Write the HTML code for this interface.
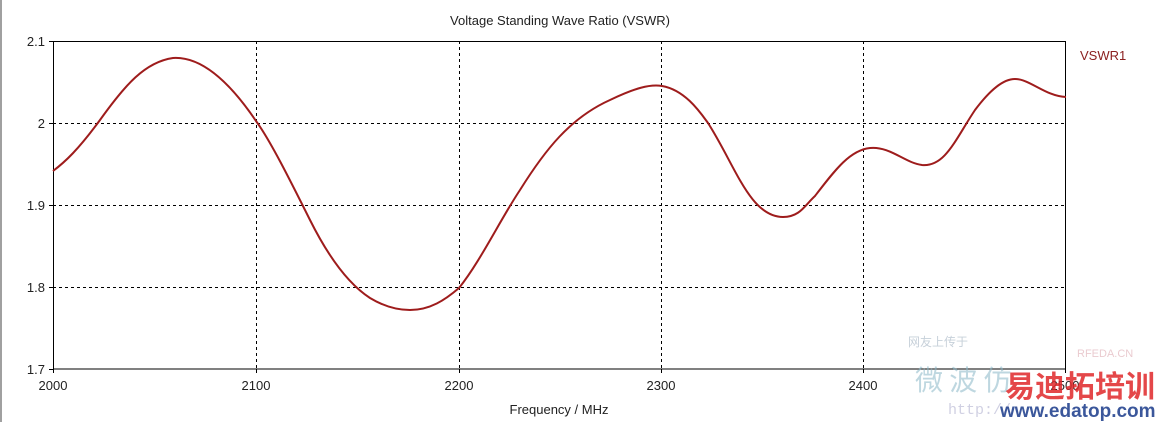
<!DOCTYPE html>
<html><head><style>
body{margin:0;background:#fff;}
svg{display:block;font-family:"Liberation Sans",Tahoma,sans-serif;}
</style></head><body>
<svg width="1161" height="422" viewBox="0 0 1161 422">
<rect x="0" y="0" width="1161" height="422" fill="#fff"/>
<line x1="1" y1="0" x2="1" y2="422" stroke="#a0a0a0" stroke-width="2"/>
<text x="560" y="25" font-size="13" text-anchor="middle" fill="#222">Voltage Standing Wave Ratio (VSWR)</text>
<g stroke="#000" stroke-width="1" stroke-dasharray="3,3">
<line x1="256.5" y1="41" x2="256.5" y2="369"/>
<line x1="459.5" y1="41" x2="459.5" y2="369"/>
<line x1="661.5" y1="41" x2="661.5" y2="369"/>
<line x1="863.5" y1="41" x2="863.5" y2="369"/>
<line x1="53" y1="123.5" x2="1066" y2="123.5"/>
<line x1="53" y1="205.5" x2="1066" y2="205.5"/>
<line x1="53" y1="287.5" x2="1066" y2="287.5"/>
</g>
<rect x="53.5" y="41.5" width="1012" height="327.5" fill="none" stroke="#000" stroke-width="1"/>
<g stroke="#000"><line x1="49" y1="41.5" x2="53" y2="41.5"/><line x1="49" y1="123.5" x2="53" y2="123.5"/><line x1="49" y1="205.5" x2="53" y2="205.5"/><line x1="49" y1="287.5" x2="53" y2="287.5"/><line x1="49" y1="369.5" x2="53" y2="369.5"/>
<line x1="53.5" y1="369" x2="53.5" y2="373"/><line x1="256.5" y1="369" x2="256.5" y2="373"/><line x1="459.5" y1="369" x2="459.5" y2="373"/><line x1="661.5" y1="369" x2="661.5" y2="373"/><line x1="863.5" y1="369" x2="863.5" y2="373"/><line x1="1065.5" y1="369" x2="1065.5" y2="373"/></g>
<g font-size="13" fill="#222" text-anchor="end">
<text x="45" y="46">2.1</text><text x="45" y="128">2</text><text x="45" y="210">1.9</text><text x="45" y="292">1.8</text><text x="45" y="374">1.7</text></g>
<g font-size="13" fill="#222" text-anchor="middle">
<text x="53" y="390">2000</text><text x="256" y="390">2100</text><text x="459" y="390">2200</text><text x="661" y="390">2300</text><text x="863" y="390">2400</text><text x="1065" y="390">2500</text>
<text x="559" y="414">Frequency / MHz</text></g>
<text x="1080" y="60" font-size="13" fill="#8b2020">VSWR1</text>
<path d="M53,171 C65,162 78,150 100,120 C125,85 145,62 173,58 C205,56 235,90 256,121 C270,140 290,180 310,220 C330,260 350,285 370,298 C385,307 398,310 410,310 C430,310 445,300 459,288 C480,262 500,220 520,190 C545,150 570,118 610,100 C635,88 650,84 662,86 C685,90 700,112 708,123 C735,165 750,217 783,217 C800,217 805,205 815,196 C835,170 850,150 870,148 C890,146 905,163 922,165 C945,167 955,140 975,110 C990,90 1003,79 1015,79 C1030,79 1045,96 1066,97" fill="none" stroke="#9e1c1c" stroke-width="2"/>
<g opacity="0.55">
<text x="908" y="346" font-size="12" fill="#9ab">网友上传于</text>
<text x="1077" y="357" font-size="11" fill="#d9a0a8">RFEDA.CN</text>
<text x="915" y="390" font-size="28" fill="#8ab8c8" font-family="'Noto Sans CJK SC',sans-serif">微 波 仿</text>
<text x="948" y="414" font-size="15" fill="#aac" font-family="'Liberation Mono',monospace">http://</text>
</g>
<text x="1005" y="397" font-size="30" font-weight="bold" fill="#e0282a" font-family="'Noto Sans CJK SC',sans-serif" opacity="0.85">易迪拓培训</text>
<text x="1000" y="417" font-size="19" font-weight="bold" fill="#1a3a8a" font-family="'Liberation Sans',sans-serif" opacity="0.85">www.edatop.com</text>
</svg>
</body></html>
